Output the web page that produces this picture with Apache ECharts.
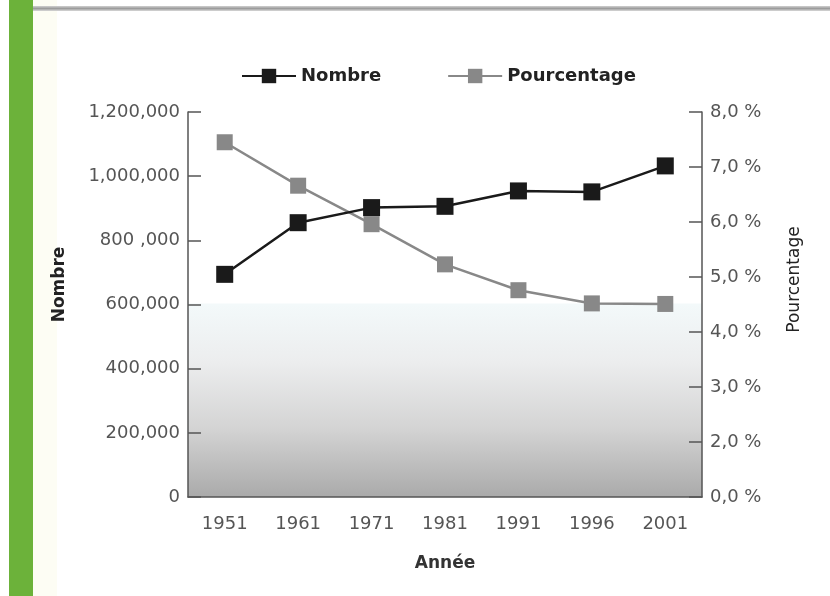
<!DOCTYPE html>
<html>
<head>
<meta charset="utf-8">
<script src="https://cdn.jsdelivr.net/npm/echarts@6/dist/echarts.min.js"></script>
<style>
  html, body { margin: 0; padding: 0; background: #fff; }
  #chart { width: 830px; height: 596px; }
</style>
</head>
<body>
<div id="chart"></div>
<script>
// données
var annees = ['1951', '1961', '1971', '1981', '1991', '1996', '2001'];
var nombre = [694000, 855000, 902000, 906000, 954000, 951000, 1032000];
var pourcentage = [7.45, 6.66, 5.96, 5.23, 4.76, 4.52, 4.51];
var nombreLabels = ['0', '200,000', '400,000', '600,000', '800 ,000', '1,000,000', '1,200,000'];
var pourcentLabels = ['0,0 %', '2,0 %', '3,0 %', '4,0 %', '5,0 %', '6,0 %', '7,0 %', '8,0 %'];

var chart = echarts.init(document.getElementById('chart'));

var axisCol = '#555';
var labelFont = 'DejaVu Sans';

var option = {
    backgroundColor: '#fff',
    animation: false,
    graphic: [
        { type: 'rect', shape: { x: 33, y: 0, width: 24, height: 596 }, style: { fill: '#fdfdf4' }, z: 0 },
        { type: 'rect', shape: { x: 9, y: 0, width: 24, height: 596 }, style: { fill: '#6cb23a' }, z: 1 },
        { type: 'rect', shape: { x: 33, y: 6, width: 797, height: 5 },
          style: { fill: new echarts.graphic.LinearGradient(0, 0, 0, 1, [
              { offset: 0, color: '#d0d0d0' }, { offset: 0.5, color: '#9c9c9c' }, { offset: 1, color: '#d8d8d8' }]) }, z: 1 }
    ],
    legend: {
        top: 62,
        left: 236,
        itemWidth: 54,
        itemHeight: 18,
        itemGap: 66,
        textStyle: { fontFamily: labelFont, fontSize: 18, color: '#222', fontWeight: 'bold' },
        data: ['Nombre', 'Pourcentage']
    },
    grid: {
        left: 188,
        right: 128,
        top: 112,
        bottom: 99,
        show: true,
        borderWidth: 0,
        backgroundColor: new echarts.graphic.LinearGradient(0, 0, 0, 1, [
            { offset: 0, color: '#ffffff' },
            { offset: 0.495, color: '#ffffff' },
            { offset: 0.5, color: '#f3f9fa' },
            { offset: 0.65, color: '#ecedee' },
            { offset: 0.82, color: '#d4d4d4' },
            { offset: 1, color: '#aaaaaa' }
        ])
    },
    xAxis: {
        type: 'category',
        data: annees,
        boundaryGap: true,
        name: 'Année',
        nameLocation: 'middle',
        nameGap: 58,
        nameTextStyle: { fontFamily: labelFont, fontSize: 17, color: '#333', fontWeight: 'bold' },
        axisLine: { lineStyle: { color: axisCol, width: 1.5 } },
        axisTick: { inside: true, length: 8, lineStyle: { color: axisCol, width: 1.5 } },
        axisLabel: { margin: 18, fontFamily: labelFont, fontSize: 18, color: '#555' },
        splitLine: { show: false }
    },
    yAxis: [
        {
            type: 'value',
            min: 0,
            max: 1200000,
            interval: 200000,
            name: 'Nombre',
            nameLocation: 'middle',
            nameGap: 120,
            nameRotate: 90,
            nameTextStyle: { fontFamily: labelFont, fontSize: 17, color: '#222', fontWeight: 'bold', padding: [0, 0, 0, 40] },
            axisLine: { show: true, lineStyle: { color: axisCol, width: 1.5 } },
            axisTick: { show: true, inside: true, length: 13, lineStyle: { color: axisCol, width: 1.5 } },
            axisLabel: {
                margin: 8, fontFamily: labelFont, fontSize: 18, color: '#555',
                formatter: function (v) { return nombreLabels[Math.round(v / 200000)]; }
            },
            splitLine: { show: false }
        },
        {
            type: 'value',
            min: 1,
            max: 8,
            interval: 1,
            position: 'right',
            name: 'Pourcentage',
            nameLocation: 'middle',
            nameGap: 84,
            nameRotate: 90,
            nameTextStyle: { fontFamily: labelFont, fontSize: 17, color: '#222', padding: [0, 0, 0, 50] },
            axisLine: { show: true, lineStyle: { color: axisCol, width: 1.5 } },
            axisTick: { show: true, inside: true, length: 13, lineStyle: { color: axisCol, width: 1.5 } },
            axisLabel: {
                margin: 8, fontFamily: labelFont, fontSize: 18, color: '#555',
                formatter: function (v) { return pourcentLabels[Math.round(v) - 1]; }
            },
            splitLine: { show: false }
        }
    ],
    series: [
        {
            name: 'Nombre',
            type: 'line',
            yAxisIndex: 0,
            data: nombre,
            symbol: 'rect',
            symbolSize: 17,
            z: 3,
            itemStyle: { color: '#1a1a1a' },
            lineStyle: { color: '#1a1a1a', width: 2.5 }
        },
        {
            name: 'Pourcentage',
            type: 'line',
            yAxisIndex: 1,
            data: pourcentage,
            symbol: 'rect',
            symbolSize: 16,
            z: 2,
            itemStyle: { color: '#888' },
            lineStyle: { color: '#888', width: 2.5 }
        }
    ]
};

chart.setOption(option);
</script>
</body>
</html>
